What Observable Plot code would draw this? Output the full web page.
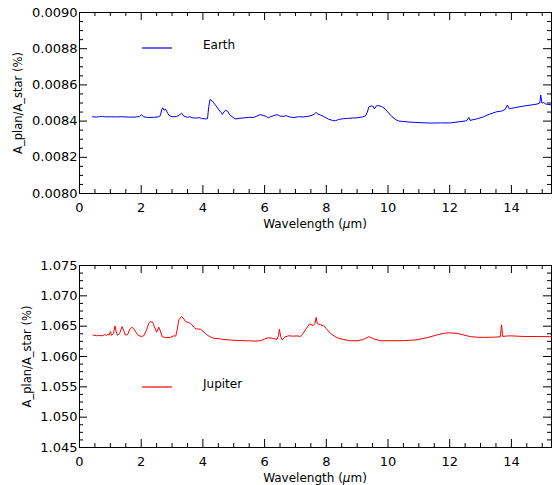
<!DOCTYPE html>
<html><head><meta charset="utf-8">
<script src="https://cdn.jsdelivr.net/npm/d3@7"></script>
<script src="https://cdn.jsdelivr.net/npm/@observablehq/plot@0.6"></script>
<style>body{margin:0;background:#fff} #chart svg{display:block}</style>
</head><body><div id="chart"></div><script>
// ---------- data ----------
const xTicks = [0, 2, 4, 6, 8, 10, 12, 14];
const earthTicks = [0.0080, 0.0082, 0.0084, 0.0086, 0.0088, 0.0090];
const jupiterTicks = [1.045, 1.050, 1.055, 1.060, 1.065, 1.070, 1.075];
const xLabelParts = ["Wavelength (", "\u03bc", "m)"];
const yLabel = "A_plan/A_star (%)";

const earthWavelength = [0.42,0.55,0.65,0.75,0.85,1.0,1.2,1.4,1.6,1.8,1.95,2.01,2.08,2.2,2.4,2.55,2.62,2.67,2.70,2.74,2.79,2.84,2.90,3.0,3.15,3.25,3.31,3.38,3.5,3.57,3.65,3.8,3.9,3.95,4.1,4.15,4.19,4.23,4.30,4.40,4.50,4.58,4.63,4.68,4.73,4.80,4.88,4.98,5.06,5.2,5.35,5.5,5.65,5.75,5.86,5.95,6.05,6.12,6.19,6.30,6.40,6.5,6.6,6.7,6.83,6.95,7.1,7.27,7.4,7.54,7.62,7.67,7.72,7.81,7.92,8.08,8.20,8.30,8.40,8.55,8.68,8.85,9.0,9.15,9.27,9.33,9.38,9.46,9.52,9.56,9.62,9.70,9.80,9.92,10.02,10.13,10.25,10.35,10.5,10.72,11.0,11.37,11.7,12.02,12.3,12.55,12.62,12.66,12.9,13.1,13.21,13.39,13.53,13.70,13.80,13.87,13.93,14.1,14.4,14.6,14.83,14.92,14.95,14.99,15.05,15.12,15.3];
const earthValue = [0.008424,0.008422,0.008425,0.008426,0.008423,0.008424,0.008423,0.008424,0.008422,0.008422,0.008426,0.008436,0.008424,0.008420,0.008421,0.008423,0.008430,0.008465,0.008474,0.008460,0.008466,0.008450,0.008432,0.008424,0.008425,0.008435,0.008444,0.008428,0.008420,0.008425,0.008418,0.008417,0.008419,0.008414,0.008412,0.008414,0.008480,0.008519,0.008512,0.008490,0.008466,0.008450,0.008437,0.008450,0.008460,0.008455,0.008432,0.008420,0.008412,0.008416,0.008418,0.008421,0.008420,0.008428,0.008436,0.008432,0.008426,0.008418,0.008424,0.008430,0.008436,0.008428,0.008426,0.008430,0.008422,0.008420,0.008424,0.008423,0.008426,0.008432,0.008440,0.008448,0.008440,0.008434,0.008425,0.008410,0.008404,0.008402,0.008409,0.008413,0.008415,0.008417,0.008418,0.008422,0.008428,0.008450,0.008478,0.008484,0.008482,0.008467,0.008484,0.008486,0.008480,0.008465,0.008445,0.008424,0.008408,0.008400,0.008398,0.008394,0.008392,0.008389,0.008390,0.008390,0.008396,0.008402,0.008420,0.008404,0.008413,0.008424,0.008433,0.008444,0.008452,0.008456,0.008465,0.008489,0.008468,0.008474,0.008483,0.008488,0.008494,0.008500,0.008544,0.008500,0.008502,0.008494,0.008490];

const jupiterWavelength = [0.44,0.55,0.65,0.76,0.82,0.87,0.92,0.96,1.00,1.04,1.10,1.15,1.19,1.23,1.30,1.38,1.44,1.49,1.56,1.63,1.69,1.76,1.83,1.90,2.0,2.08,2.17,2.24,2.30,2.38,2.44,2.50,2.57,2.62,2.68,2.8,2.95,3.05,3.12,3.17,3.22,3.31,3.38,3.44,3.54,3.60,3.65,3.72,3.78,3.92,4.0,4.14,4.25,4.36,4.5,4.6,4.89,5.2,5.5,5.76,5.90,6.0,6.13,6.25,6.40,6.45,6.48,6.52,6.57,6.65,6.78,6.9,7.05,7.16,7.25,7.32,7.46,7.57,7.63,7.67,7.71,7.80,7.92,8.0,8.13,8.25,8.35,8.55,8.78,9.0,9.2,9.38,9.54,9.75,10.2,10.51,10.9,11.26,11.55,11.8,12.0,12.24,12.45,12.67,12.9,13.1,13.4,13.64,13.68,13.72,13.85,13.99,14.4,15.3];
const jupiterValue = [1.06354,1.06343,1.06345,1.06343,1.06365,1.06345,1.06370,1.06350,1.06410,1.06350,1.06380,1.06504,1.06410,1.06350,1.06380,1.06493,1.06420,1.06354,1.06360,1.06450,1.06482,1.06460,1.06400,1.06350,1.06330,1.06340,1.06430,1.06540,1.06576,1.06560,1.06470,1.06400,1.06482,1.06420,1.06327,1.06310,1.06315,1.06340,1.06335,1.06450,1.06604,1.06659,1.06620,1.06575,1.06560,1.06545,1.06520,1.06475,1.06455,1.06450,1.06420,1.06354,1.06320,1.06299,1.06296,1.06285,1.06271,1.06262,1.06258,1.06254,1.06265,1.06290,1.06310,1.06300,1.06282,1.06350,1.06449,1.06330,1.06271,1.06320,1.06343,1.06335,1.06340,1.06330,1.06380,1.06438,1.06538,1.06510,1.06540,1.06643,1.06540,1.06525,1.06504,1.06460,1.06382,1.06340,1.06310,1.06280,1.06260,1.06258,1.06280,1.06327,1.06290,1.06260,1.06260,1.06262,1.06272,1.06310,1.06350,1.06382,1.06390,1.06382,1.06355,1.06327,1.06318,1.06315,1.06318,1.06325,1.06521,1.06330,1.06338,1.06340,1.06330,1.06327];

// ---------- drawing ----------
const W = 552, ML = 79, MR = 1;
const xDomain = [0, 15.3];

function legendMark(name, color, dy) {
  return (index, scales, values, dims) => {
    const g = d3.create("svg:g");
    const x0 = dims.marginLeft, y0 = dims.marginTop + dy;
    g.append("line").attr("x1", x0 + 63).attr("x2", x0 + 93)
      .attr("y1", y0).attr("y2", y0).attr("stroke", color).attr("stroke-width", 1.2);
    g.append("text").attr("x", x0 + 124).attr("y", y0 + 0.5)
      .attr("text-anchor", "start")
      .attr("font-size", 12).attr("fill", "black").text(name);
    return g.node();
  };
}

function xLabelMark(dy) {
  return (index, scales, values, dims) => {
    const cx = (dims.marginLeft + dims.width - dims.marginRight) / 2;
    const cy = dims.height - dims.marginBottom + dy;
    const t = d3.create("svg:text").attr("x", cx).attr("y", cy)
      .attr("text-anchor", "middle").attr("dy", "0.35em")
      .attr("font-size", 12).attr("fill", "black");
    t.append("tspan").text(xLabelParts[0]);
    t.append("tspan").attr("font-style", "italic").text(xLabelParts[1]);
    t.append("tspan").text(xLabelParts[2]);
    return t.node();
  };
}

function panel({wl, val, color, name, yDomain, yTicks, yMinorStep, yFormat, height, marginTop, marginBottom, yLabelDx, legendDy}) {
  const fw = W - ML - MR, fh = height - marginTop - marginBottom;
  const data = wl.map((x, i) => ({x, y: val[i]}));
  const xMinor = d3.range(0, 15.3, 0.5).filter(v => !xTicks.includes(v));
  const n = Math.round((yDomain[1] - yDomain[0]) / yMinorStep);
  const yMinor = d3.range(0, n + 1).map(i => yDomain[0] + i * yMinorStep)
    .filter(v => !yTicks.some(t => Math.abs(t - v) < yMinorStep / 10));
  return Plot.plot({
    width: W, height, marginLeft: ML, marginRight: MR, marginTop, marginBottom,
    x: {domain: xDomain},
    y: {domain: yDomain},
    style: {fontFamily: "DejaVu Sans", fontSize: "13px", color: "black", background: "white"},
    marks: [
      Plot.line(data, {x: "x", y: "y", stroke: color, strokeWidth: 1}),
      Plot.ruleX(xTicks, {insetTop: fh - 8, stroke: "black"}),
      Plot.ruleX(xTicks, {insetBottom: fh - 8, stroke: "black"}),
      Plot.ruleX(xMinor, {insetTop: fh - 4, stroke: "black"}),
      Plot.ruleX(xMinor, {insetBottom: fh - 4, stroke: "black"}),
      Plot.ruleY(yTicks, {insetRight: fw - 8, stroke: "black"}),
      Plot.ruleY(yTicks, {insetLeft: fw - 8, stroke: "black"}),
      Plot.ruleY(yMinor, {insetRight: fw - 4, stroke: "black"}),
      Plot.ruleY(yMinor, {insetLeft: fw - 4, stroke: "black"}),
      Plot.frame({stroke: "black"}),
      Plot.axisX(xTicks, {tickSize: 0, tickPadding: 9, label: null, tickFormat: d3.format("d")}),
      Plot.axisY(yTicks, {tickSize: 0, tickPadding: 2, label: null, tickFormat: d3.format(yFormat)}),
      xLabelMark(31),
      Plot.text([yLabel], {frameAnchor: "left", textAnchor: "middle", rotate: -90, dx: yLabelDx, fontSize: 11.5, lineAnchor: "middle", text: d => d}),
      legendMark(name, color, legendDy)
    ]
  });
}

const chart = document.getElementById("chart");
chart.append(panel({
  wl: earthWavelength, val: earthValue, color: "#0000ff", name: "Earth",
  yDomain: [0.0080, 0.0090], yTicks: earthTicks, yMinorStep: 0.00005, yFormat: ".4f",
  height: 245, marginTop: 12, marginBottom: 52, yLabelDx: -61, legendDy: 36
}));
chart.append(panel({
  wl: jupiterWavelength, val: jupiterValue, color: "#ff0000", name: "Jupiter",
  yDomain: [1.045, 1.075], yTicks: jupiterTicks, yMinorStep: 0.00125, yFormat: ".3f",
  height: 240, marginTop: 20, marginBottom: 38, yLabelDx: -52, legendDy: 122
}));
</script></body></html>
